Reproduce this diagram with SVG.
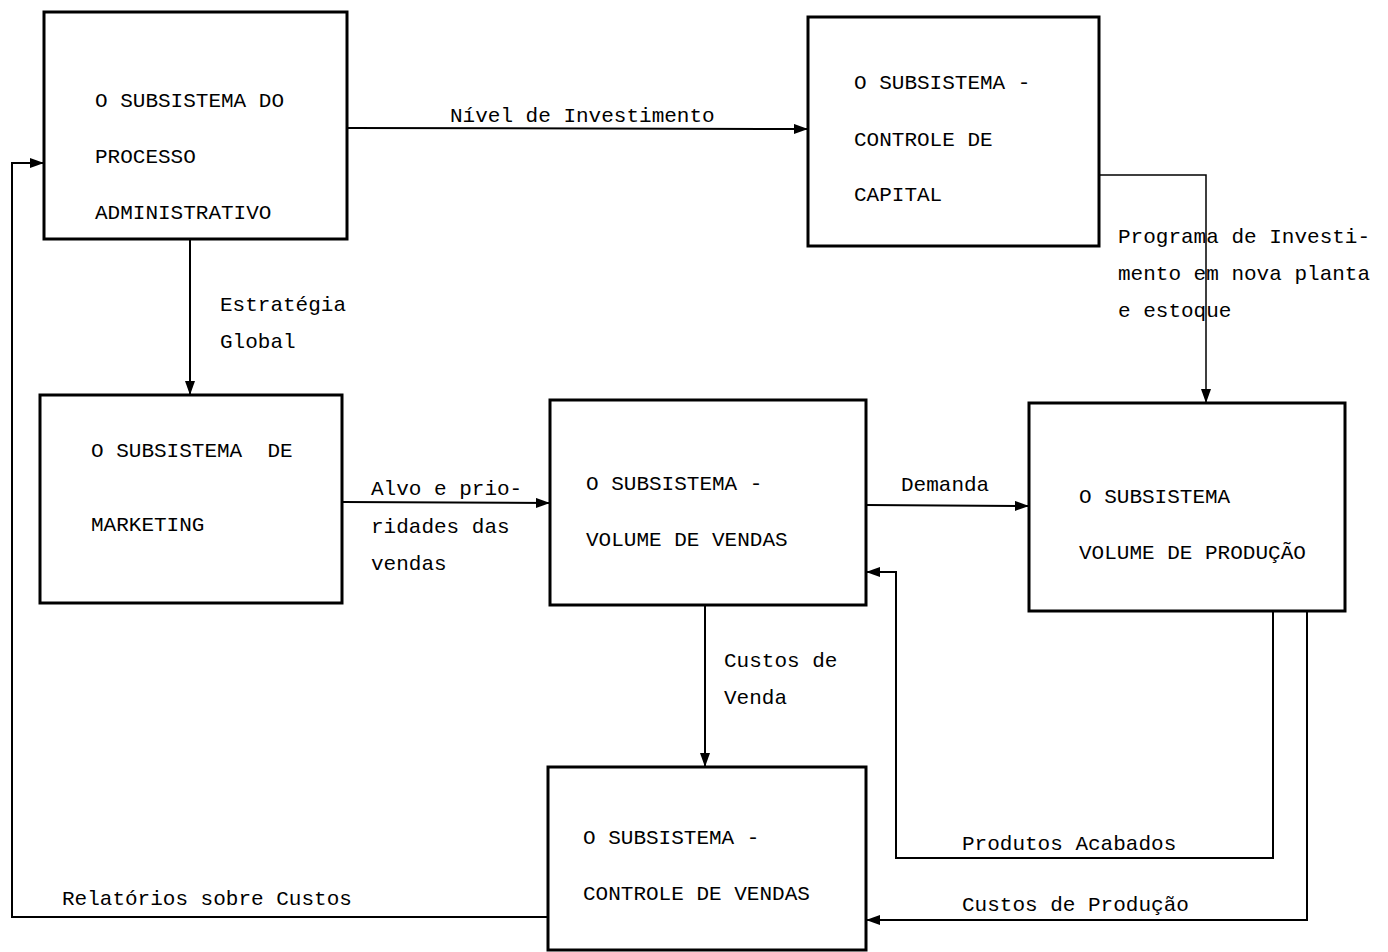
<svg xmlns="http://www.w3.org/2000/svg" width="1388" height="952" viewBox="0 0 1388 952">
  <style>
    .box { fill: #fff; stroke: #000; stroke-width: 3; }
    .t { font-family: "Liberation Mono", "DejaVu Sans Mono", monospace; font-size: 21px; fill: #000; }
    .wire { fill: none; stroke: #000; stroke-width: 2; }
    .thin { fill: none; stroke: #000; stroke-width: 1.5; }
  </style>
  <defs>
    <marker id="arrow" viewBox="0 0 14 10" refX="14" refY="5" markerWidth="14" markerHeight="10" markerUnits="userSpaceOnUse" orient="auto">
      <path d="M0,0 L14,5 L0,10 z" fill="#000"/>
    </marker>
  </defs>

  <rect width="1388" height="952" fill="#fff"/>

  <!-- connectors -->
  <g id="connectors">
    <path class="wire" d="M347,128 L808,129" marker-end="url(#arrow)"/>
    <path class="thin" d="M1099,175 L1206,175 L1206,403" marker-end="url(#arrow)"/>
    <path class="wire" d="M190,239 L190,395" marker-end="url(#arrow)"/>
    <path class="wire" d="M342,502 L550,503" marker-end="url(#arrow)"/>
    <path class="wire" d="M866,505 L1029,506" marker-end="url(#arrow)"/>
    <path class="wire" d="M705,605 L705,767" marker-end="url(#arrow)"/>
    <path class="wire" d="M1273,611 L1273,858 L896,858 L896,572 L866,572" marker-end="url(#arrow)"/>
    <path class="wire" d="M1307,611 L1307,920 L866,920" marker-end="url(#arrow)"/>
    <path class="wire" d="M548,917 L12,917 L12,163 L44,163" marker-end="url(#arrow)"/>

    <text class="t" x="450" y="122">Nível de Investimento</text>
    <text class="t" x="1118" y="243">Programa de Investi-</text>
    <text class="t" x="1118" y="280">mento em nova planta</text>
    <text class="t" x="1118" y="317">e estoque</text>
    <text class="t" x="220" y="311">Estratégia</text>
    <text class="t" x="220" y="348">Global</text>
    <text class="t" x="371" y="495">Alvo e prio-</text>
    <text class="t" x="371" y="533">ridades das</text>
    <text class="t" x="371" y="570">vendas</text>
    <text class="t" x="901" y="491">Demanda</text>
    <text class="t" x="724" y="667">Custos de</text>
    <text class="t" x="724" y="704">Venda</text>
    <text class="t" x="962" y="850">Produtos Acabados</text>
    <text class="t" x="962" y="911">Custos de Produção</text>
    <text class="t" x="62" y="905">Relatórios sobre Custos</text>
  </g>

  <g id="administrativo">
    <rect class="box" x="44" y="12" width="303" height="227"/>
    <text class="t" x="95" y="107">O SUBSISTEMA DO</text>
    <text class="t" x="95" y="163">PROCESSO</text>
    <text class="t" x="95" y="219">ADMINISTRATIVO</text>
  </g>

  <g id="capital">
    <rect class="box" x="808" y="17" width="291" height="229"/>
    <text class="t" x="854" y="89">O SUBSISTEMA -</text>
    <text class="t" x="854" y="146">CONTROLE DE</text>
    <text class="t" x="854" y="201">CAPITAL</text>
  </g>

  <g id="marketing">
    <rect class="box" x="40" y="395" width="302" height="208"/>
    <text class="t" x="91" y="457" xml:space="preserve">O SUBSISTEMA  DE</text>
    <text class="t" x="91" y="531">MARKETING</text>
  </g>

  <g id="volume-vendas">
    <rect class="box" x="550" y="400" width="316" height="205"/>
    <text class="t" x="586" y="490">O SUBSISTEMA -</text>
    <text class="t" x="586" y="546">VOLUME DE VENDAS</text>
  </g>

  <g id="volume-producao">
    <rect class="box" x="1029" y="403" width="316" height="208"/>
    <text class="t" x="1079" y="503">O SUBSISTEMA</text>
    <text class="t" x="1079" y="559">VOLUME DE PRODUÇÃO</text>
  </g>

  <g id="controle-vendas">
    <rect class="box" x="548" y="767" width="318" height="183"/>
    <text class="t" x="583" y="844">O SUBSISTEMA -</text>
    <text class="t" x="583" y="900">CONTROLE DE VENDAS</text>
  </g>
</svg>
